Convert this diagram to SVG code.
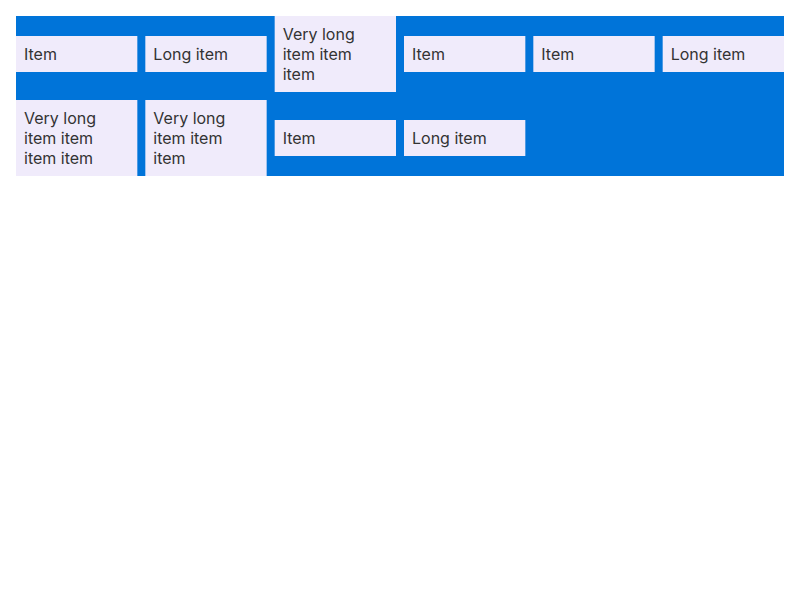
<svg xmlns="http://www.w3.org/2000/svg" width="800" height="600" viewBox="0 0 800 600">
<style>
.box{fill:#f0ebfb}
.t{font-family:Inter,"Noto Sans",sans-serif;font-size:16px;fill:#333333}
</style>
<rect width="800" height="600" fill="#ffffff"/>
<rect id="container" x="16" y="16" width="768" height="160" fill="#0074d9"/>
<g id="item1"><rect class="box" x="16" y="36" width="121.33" height="36"/><text class="t" x="24" y="60">Item</text></g>
<g id="item2"><rect class="box" x="145.33" y="36" width="121.33" height="36"/><text class="t" x="153.33" y="60">Long item</text></g>
<g id="item3"><rect class="box" x="274.67" y="16" width="121.33" height="76"/><text class="t" x="282.67" y="40">Very long</text><text class="t" x="282.67" y="60">item item</text><text class="t" x="282.67" y="80">item</text></g>
<g id="item4"><rect class="box" x="404" y="36" width="121.33" height="36"/><text class="t" x="412" y="60">Item</text></g>
<g id="item5"><rect class="box" x="533.33" y="36" width="121.33" height="36"/><text class="t" x="541.33" y="60">Item</text></g>
<g id="item6"><rect class="box" x="662.67" y="36" width="121.33" height="36"/><text class="t" x="670.67" y="60">Long item</text></g>
<g id="item7"><rect class="box" x="16" y="100" width="121.33" height="76"/><text class="t" x="24" y="124">Very long</text><text class="t" x="24" y="144">item item</text><text class="t" x="24" y="164">item item</text></g>
<g id="item8"><rect class="box" x="145.33" y="100" width="121.33" height="76"/><text class="t" x="153.33" y="124">Very long</text><text class="t" x="153.33" y="144">item item</text><text class="t" x="153.33" y="164">item</text></g>
<g id="item9"><rect class="box" x="274.67" y="120" width="121.33" height="36"/><text class="t" x="282.67" y="144">Item</text></g>
<g id="item10"><rect class="box" x="404" y="120" width="121.33" height="36"/><text class="t" x="412" y="144">Long item</text></g>
<g id="connectors"/>
</svg>
